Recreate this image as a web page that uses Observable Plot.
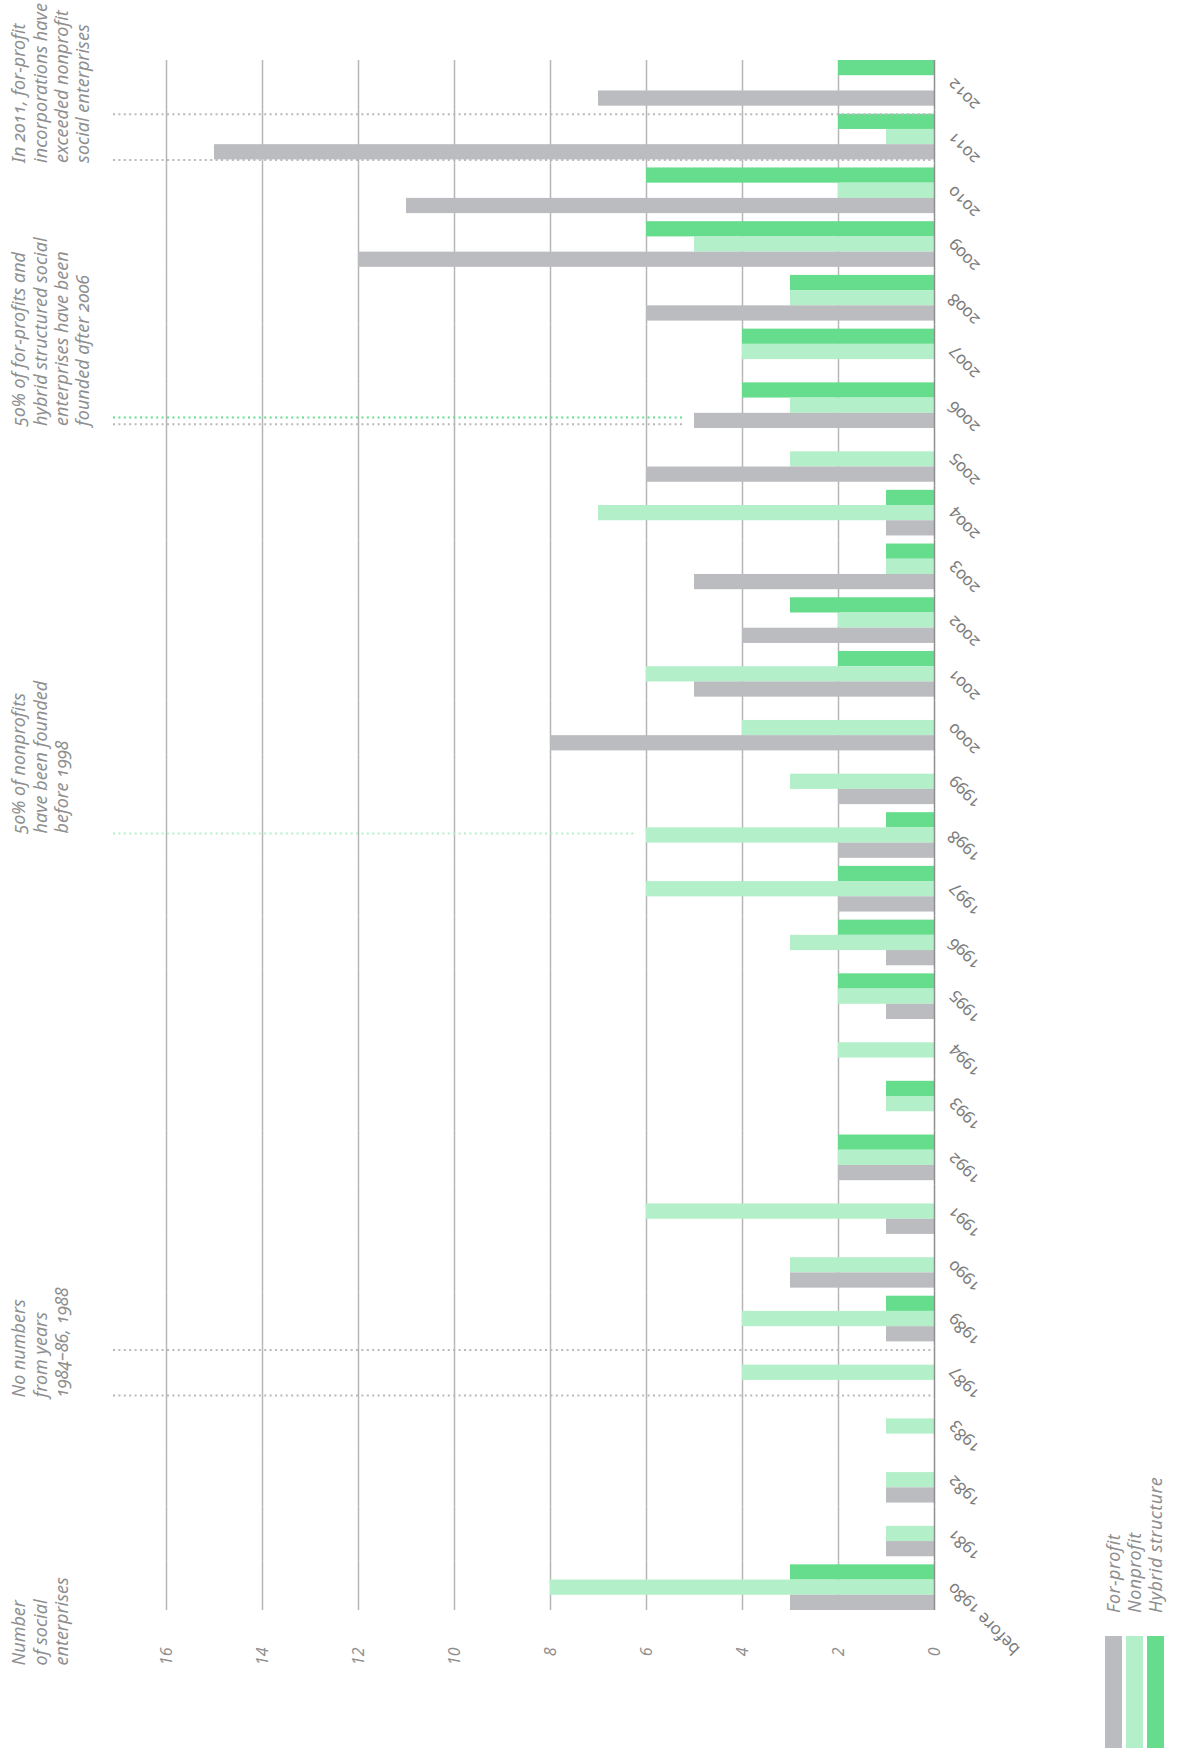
<!DOCTYPE html>
<html><head><meta charset="utf-8">
<script src="https://cdn.jsdelivr.net/npm/d3@7"></script>
<script src="https://cdn.jsdelivr.net/npm/@observablehq/plot@0.6"></script>
<style>
body{margin:0;background:#fff;}
#wrap{position:relative;width:1180px;height:1753px;overflow:hidden;font-family:"Noto Sans",sans-serif;font-variant-numeric:oldstyle-nums;}
#legend{position:absolute;left:1105px;top:1748px;transform-origin:0 0;transform:rotate(-90deg);}
.item{display:flex;align-items:center;height:17px;margin-bottom:4px;white-space:nowrap;}
.sw{width:112px;height:17px;margin-right:23px;flex:none;}
.lab{font-style:italic;font-size:18px;letter-spacing:0.4px;color:#8f8f8f;line-height:17px;}
</style></head><body><div id="wrap"></div>
<script>
// ---- data ----
const years = ["2012","2011","2010","2009","2008","2007","2006","2005","2004","2003","2002","2001","2000","1999","1998","1997","1996","1995","1994","1993","1992","1991","1990","1989","1987","1983","1982","1981","before 1980"];
const forProfit = [7,15,11,12,6,0,5,6,1,5,4,5,8,2,2,2,1,1,0,0,2,1,3,1,0,0,1,1,3];
const nonprofit = [0,1,2,5,3,4,3,3,7,1,2,6,4,3,6,6,3,2,2,1,2,6,3,4,4,1,1,1,8];
const hybrid    = [2,2,6,6,3,4,4,0,1,1,3,2,0,0,1,2,2,2,0,1,2,0,0,1,0,0,0,0,3];
const seriesNames = ["Hybrid structure","Nonprofit","For-profit"];
const seriesColors = ["#66dd8c","#b3efc8","#bbbcbf"];
const legendOrder = ["For-profit","Nonprofit","Hybrid structure"];
const tickValues = [0,2,4,6,8,10,12,14,16];
const notes = {
  y2011: "In 2011, for-profit\nincorporations have\nexceeded nonprofit\nsocial enterprises",
  y2006: "50% of for-profits and\nhybrid structured social\nenterprises have been\nfounded after 2006",
  y1998: "50% of nonprofits\nhave been founded\nbefore 1998",
  gap: "No numbers\nfrom years\n1984–86, 1988",
  axis: "Number\nof social\nenterprises"
};

// ---- table ----
const seriesArrays = [hybrid, nonprofit, forProfit];
const rows = [];
years.forEach((yr, i) => {
  seriesNames.forEach((s, j) => {
    const v = seriesArrays[j][i];
    if (v > 0) rows.push({year: yr, series: s, slot: j, value: v});
  });
});
const valOf = (arr, yr) => arr[years.indexOf(yr)];

// facet layout: 3 slots per year, gap between years as a band padding
const padInner = 0.15;
const halfGap = 3 * padInner / (1 - padInner) / 2; // half the gap, in slot units
const gridRows = [];
years.forEach((yr, i) => tickValues.forEach(t => gridRows.push({
  year: yr, tick: t,
  top: i === 0 ? 0 : -halfGap,
  bottom: i === years.length - 1 ? 3 : 3 + halfGap
})));

const gray = "#8f8f8f";
const noteStyle = {fontSize: 18, fontStyle: "italic", fill: gray, lineHeight: 1.17,
  letterSpacing: 0.4, rotate: -90, textAnchor: "start", lineAnchor: "top", frameAnchor: "left", dx: -156};
const dotted = {strokeWidth: 2, strokeDasharray: "2,3.4"};

const chart = Plot.plot({
  width: 1180, height: 1753,
  marginTop: 60, marginBottom: 143, marginLeft: 166, marginRight: 246,
  style: {fontFamily: "'Noto Sans', sans-serif", fontVariantNumeric: "oldstyle-nums", background: "white"},
  x: {domain: [0, 16], reverse: true, axis: null},
  y: {domain: [0, 3], reverse: true, axis: null},
  fy: {domain: years, paddingInner: padInner, paddingOuter: 0, round: false, axis: null},
  color: {domain: seriesNames, range: seriesColors},
  marks: [
    Plot.ruleX(gridRows.filter(d => d.tick > 0), {fy: "year", x: "tick", y1: "top", y2: "bottom", stroke: "#b5b5b5", strokeWidth: 1.5}),
    Plot.rect(rows, {fy: "year", x1: 0, x2: "value", y1: "slot", y2: d => d.slot + 1, fill: "series"}),
    Plot.ruleX(gridRows.filter(d => d.tick === 0), {fy: "year", x: "tick", y1: "top", y2: "bottom", stroke: "#8e8e8e", strokeWidth: 1.5}),
    Plot.axisX(tickValues, {anchor: "bottom", tickRotate: -90, tickSize: 0, tickPadding: 37,
      fontSize: 16, fontStyle: "italic", fill: gray, label: null, tickFormat: d => String(d)}),
    // year labels
    Plot.text(years, {fy: d => d, text: d => d, frameAnchor: "right", dx: 16, dy: -2,
      rotate: -135, textAnchor: "end", fontSize: 17, fill: "#7d7d7d"}),
    // annotation rules
    Plot.ruleY([0, 3], {fy: ["2011", "2011"], stroke: "#b9b9b9", insetLeft: -53, ...dotted}),
    Plot.ruleY([0, 3], {fy: ["1987", "1987"], stroke: "#b9b9b9", insetLeft: -53, ...dotted}),
    Plot.ruleY([2.5], {fy: ["2006"], x1: 16, x2: valOf(forProfit, "2006"), insetLeft: -53, insetRight: 12,
      dy: -3.3, stroke: "#66dd8c", ...dotted}),
    Plot.ruleY([2.5], {fy: ["2006"], x1: 16, x2: valOf(forProfit, "2006"), insetLeft: -53, insetRight: 12,
      dy: 3.3, stroke: "#b9b9b9", ...dotted}),
    Plot.ruleY([1.5], {fy: ["1998"], x1: 16, x2: valOf(nonprofit, "1998"), insetLeft: -53, insetRight: 12,
      dy: -2, stroke: "#b3efc8", ...dotted}),
    // annotation texts
    Plot.text([notes.y2011], {fy: ["2011"], y: 3, dy: 3, ...noteStyle}),
    Plot.text([notes.y2006], {fy: ["2006"], y: 2.5, dy: 5, ...noteStyle}),
    Plot.text([notes.y1998], {fy: ["1998"], y: 1.5, dy: -2, ...noteStyle}),
    Plot.text([notes.gap], {fy: ["1987"], y: 3, dy: 2, ...noteStyle}),
    Plot.text([notes.axis], {fy: ["before 1980"], y: 3, dy: 55, ...noteStyle})
  ]
});

const wrap = document.getElementById("wrap");
wrap.appendChild(chart);

// legend (rotated, bottom right)
const legend = document.createElement("div");
legend.id = "legend";
legendOrder.forEach(name => {
  const item = document.createElement("div");
  item.className = "item";
  const sw = document.createElement("div");
  sw.className = "sw";
  sw.style.background = seriesColors[seriesNames.indexOf(name)];
  const lab = document.createElement("span");
  lab.className = "lab";
  lab.textContent = name;
  item.appendChild(sw); item.appendChild(lab);
  legend.appendChild(item);
});
wrap.appendChild(legend);
</script></body></html>
